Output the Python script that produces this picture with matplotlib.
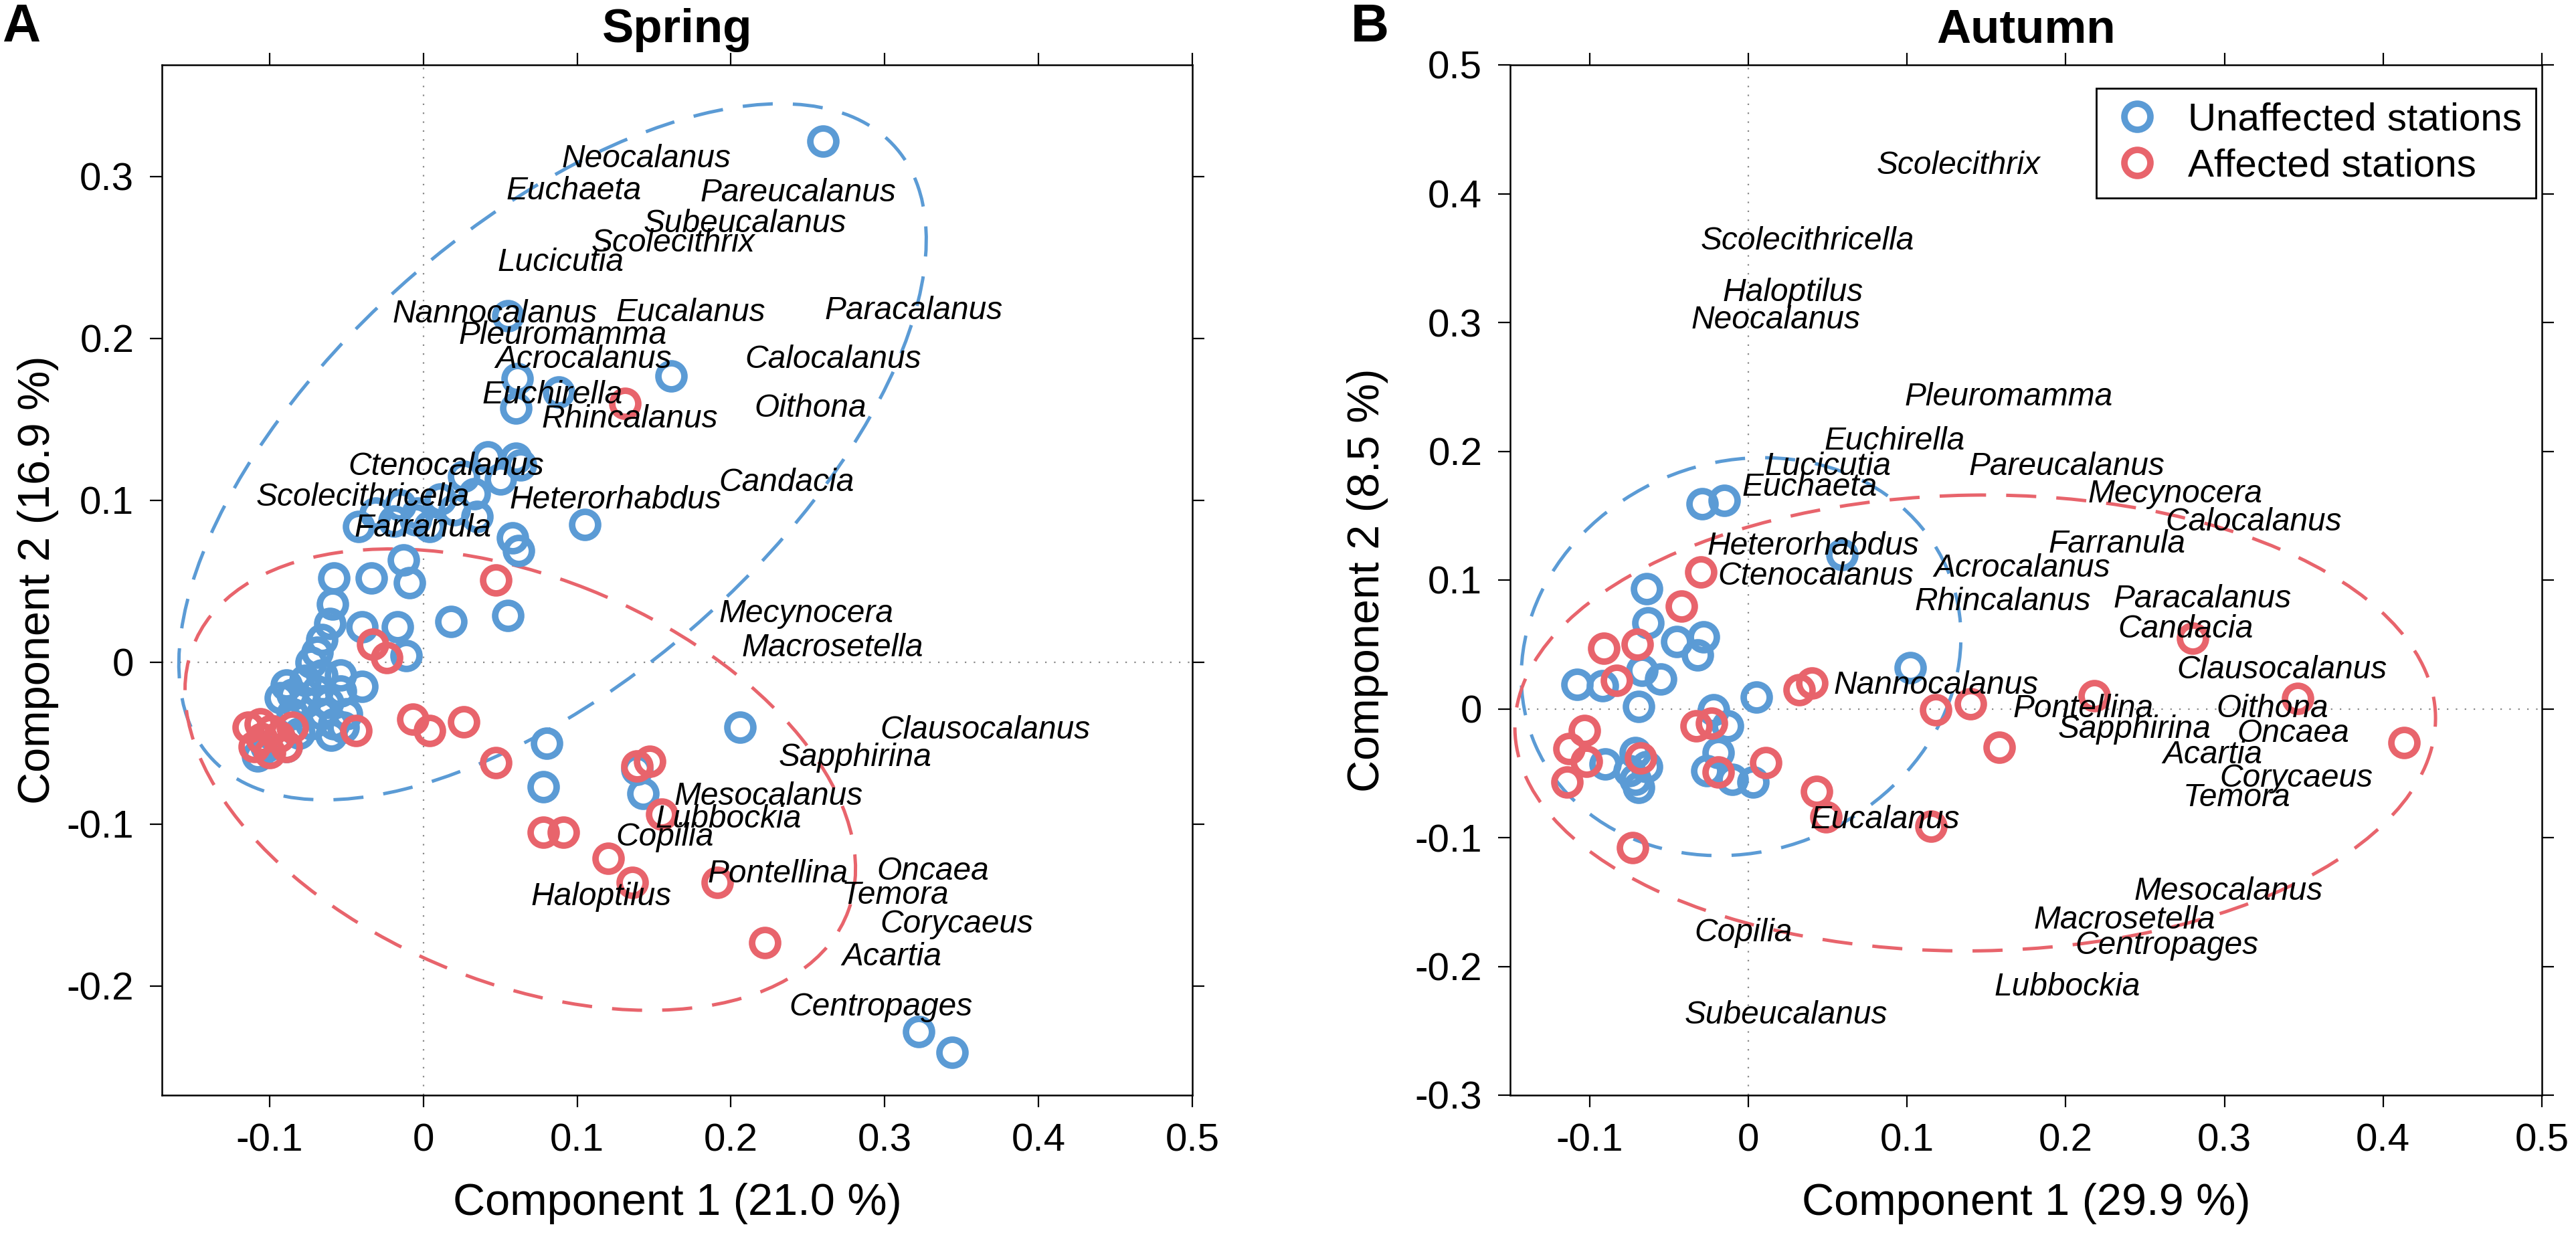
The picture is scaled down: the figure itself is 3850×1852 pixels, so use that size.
import numpy as np
import matplotlib
matplotlib.use('Agg')
import matplotlib.pyplot as plt
from matplotlib.patches import Ellipse
from matplotlib.lines import Line2D
from matplotlib.ticker import FuncFormatter

plt.rcParams['font.family'] = ['Liberation Sans', 'DejaVu Sans']
plt.rcParams['axes.unicode_minus'] = False

BLUE = '#5b9bd5'
RED = '#e8646c'

# ---------------- Spring (panel A) ----------------
spring_unaff_x = [0.260, 0.055, 0.161, 0.061, 0.088, 0.060,
                  0.042, 0.060, 0.063, 0.026, 0.033, 0.050, 0.011, -0.004,
                  -0.042, -0.031, -0.019, -0.005, 0.004, -0.015, 0.020, 0.035,
                  0.058, 0.062, 0.105, -0.013, -0.058, -0.034, -0.009, -0.059,
                  -0.061, -0.040, -0.017, -0.066, -0.069, -0.011, 0.018, 0.055,
                  -0.040, -0.073,
                  -0.089, -0.085, -0.077, -0.069, -0.062, -0.054, -0.066, -0.058,
                  -0.073, -0.085, -0.081, -0.060, -0.054, -0.066, -0.050, -0.077,
                  -0.093, -0.108, -0.102, -0.089, -0.052,
                  0.080, 0.078, 0.139, 0.143, 0.206, 0.322, 0.344]
spring_unaff_y = [0.322, 0.214, 0.177, 0.175, 0.167, 0.157,
                  0.127, 0.126, 0.122, 0.115, 0.104, 0.113, 0.101, 0.092,
                  0.084, 0.092, 0.087, 0.088, 0.084, 0.097, 0.094, 0.090,
                  0.077, 0.069, 0.085, 0.063, 0.052, 0.052, 0.049, 0.036,
                  0.024, 0.022, 0.022, 0.014, 0.006, 0.004, 0.025, 0.029,
                  -0.015, 0.000,
                  -0.014, -0.020, -0.011, -0.018, -0.025, -0.018, -0.032, -0.038,
                  -0.038, -0.032, -0.044, -0.045, -0.008, -0.008, -0.032, -0.025,
                  -0.022, -0.058, -0.052, -0.052, -0.040,
                  -0.050, -0.077, -0.066, -0.081, -0.040, -0.228, -0.241]

spring_aff_x = [0.131, 0.047, -0.033, -0.024, -0.007, 0.004, 0.026, -0.044, 0.047,
                -0.114, -0.106, -0.099, -0.110, -0.100, -0.089, -0.085, -0.105, -0.094,
                0.139, 0.147, 0.155, 0.120, 0.136, 0.191, 0.222, 0.078, 0.091]
spring_aff_y = [0.160, 0.051, 0.011, 0.003, -0.035, -0.042, -0.037, -0.042, -0.062,
                -0.040, -0.038, -0.042, -0.052, -0.056, -0.052, -0.040, -0.047, -0.046,
                -0.064, -0.061, -0.094, -0.121, -0.136, -0.136, -0.173, -0.105, -0.105]

spring_names = ['Neocalanus', 'Euchaeta', 'Pareucalanus', 'Subeucalanus', 'Scolecithrix',
                'Lucicutia', 'Nannocalanus', 'Eucalanus', 'Paracalanus', 'Pleuromamma',
                'Acrocalanus', 'Calocalanus', 'Euchirella', 'Rhincalanus', 'Oithona',
                'Ctenocalanus', 'Candacia', 'Scolecithricella', 'Heterorhabdus', 'Farranula',
                'Mecynocera', 'Macrosetella', 'Clausocalanus', 'Sapphirina', 'Mesocalanus',
                'Lubbockia', 'Copilia', 'Pontellina', 'Oncaea', 'Temora', 'Haloptilus',
                'Corycaeus', 'Acartia', 'Centropages']
spring_name_x = [0.090, 0.054, 0.180, 0.143, 0.109, 0.048, -0.020, 0.125, 0.261, 0.023,
                 0.047, 0.209, 0.038, 0.077, 0.215, -0.049, 0.192, -0.109, 0.056, -0.045,
                 0.192, 0.207, 0.297, 0.231, 0.163, 0.151, 0.125, 0.185, 0.295, 0.272,
                 0.070, 0.297, 0.272, 0.238]
spring_name_y = [0.311, 0.291, 0.290, 0.271, 0.259, 0.247, 0.215, 0.216, 0.217, 0.202,
                 0.187, 0.187, 0.165, 0.150, 0.157, 0.121, 0.111, 0.102, 0.100, 0.083,
                 0.030, 0.009, -0.042, -0.059, -0.083, -0.097, -0.108, -0.131, -0.129, -0.144,
                 -0.145, -0.162, -0.182, -0.213]

# ellipses: centre x, centre y, sd x, sd y, correlation
spring_ell_unaff = [0.084, 0.130, 0.243, 0.215, 0.61]
spring_ell_aff = [0.063, -0.0725, 0.218, 0.1425, -0.386]

# ---------------- Autumn (panel B) ----------------
autumn_unaff_x = [-0.029, -0.015, 0.059, -0.064, -0.063, -0.045, -0.028, -0.032, -0.067,
                  -0.055, -0.108, -0.092, -0.069, -0.022, 0.005, -0.013, -0.019, -0.090,
                  -0.071, -0.064, -0.071, -0.069, -0.026, -0.010, 0.003, 0.102, -0.075]
autumn_unaff_y = [0.159, 0.162, 0.120, 0.093, 0.067, 0.052, 0.056, 0.042, 0.030,
                  0.023, 0.019, 0.018, 0.002, -0.001, 0.009, -0.013, -0.034, -0.043,
                  -0.034, -0.045, -0.055, -0.061, -0.048, -0.055, -0.057, 0.032, -0.048]

autumn_aff_x = [-0.030, -0.042, -0.091, -0.070, -0.083, -0.103, -0.113, -0.102, -0.114,
                -0.068, -0.033, -0.023, -0.019, 0.011, 0.032, 0.040, 0.043, 0.049,
                0.115, 0.118, 0.140, 0.158, -0.073, 0.218, 0.280, 0.346, 0.413]
autumn_aff_y = [0.106, 0.080, 0.047, 0.050, 0.022, -0.017, -0.031, -0.041, -0.057,
                -0.038, -0.013, -0.011, -0.049, -0.042, 0.015, 0.020, -0.064, -0.084,
                -0.091, -0.001, 0.004, -0.030, -0.108, 0.010, 0.055, 0.008, -0.026]

autumn_names = ['Scolecithrix', 'Scolecithricella', 'Haloptilus', 'Neocalanus', 'Pleuromamma',
                'Euchirella', 'Lucicutia', 'Pareucalanus', 'Euchaeta', 'Mecynocera',
                'Calocalanus', 'Farranula', 'Heterorhabdus', 'Acrocalanus', 'Ctenocalanus',
                'Rhincalanus', 'Paracalanus', 'Candacia', 'Clausocalanus', 'Nannocalanus',
                'Pontellina', 'Oithona', 'Sapphirina', 'Oncaea', 'Acartia', 'Corycaeus',
                'Temora', 'Eucalanus', 'Mesocalanus', 'Macrosetella', 'Centropages',
                'Copilia', 'Lubbockia', 'Subeucalanus']
autumn_name_x = [0.081, -0.030, -0.016, -0.036, 0.0985, 0.048, 0.0105, 0.139, -0.004, 0.214,
                 0.263, 0.189, -0.026, 0.117, -0.019, 0.105, 0.230, 0.233, 0.270, 0.054,
                 0.167, 0.295, 0.195, 0.308, 0.261, 0.297, 0.274, 0.039, 0.243, 0.180,
                 0.206, -0.034, 0.155, -0.040]
autumn_name_y = [0.422, 0.363, 0.323, 0.302, 0.242, 0.208, 0.188, 0.188, 0.172, 0.167,
                 0.145, 0.128, 0.126, 0.109, 0.103, 0.083, 0.085, 0.062, 0.030, 0.018,
                 0.000, 0.000, -0.016, -0.019, -0.036, -0.054, -0.069, -0.086, -0.142, -0.164,
                 -0.184, -0.174, -0.216, -0.238]

autumn_ell_unaff = [-0.0045, 0.0405, 0.1385, 0.1545, 0.10]
autumn_ell_aff = [0.143, -0.011, 0.290, 0.177, 0.02]


def draw_ellipse(ax, params, color):
    cx, cy, sx, sy, r = params
    cov = np.array([[sx ** 2, r * sx * sy], [r * sx * sy, sy ** 2]])
    vals, vecs = np.linalg.eigh(cov)
    angle = np.degrees(np.arctan2(vecs[1, 1], vecs[0, 1]))
    e = Ellipse((cx, cy), 2 * np.sqrt(vals[1]), 2 * np.sqrt(vals[0]), angle=angle,
                fill=False, ec=color, lw=3.6, ls=(0, (9, 6)), zorder=2)
    ax.add_patch(e)


def style_axes(ax, xlim, ylim, xticks, yticks):
    ax.set_xlim(xlim)
    ax.set_ylim(ylim)
    ax.set_xticks(xticks)
    ax.set_yticks(yticks)
    fmt = FuncFormatter(lambda v, p: '%g' % round(v, 2) if abs(v) > 1e-9 else '0')
    ax.xaxis.set_major_formatter(fmt)
    ax.yaxis.set_major_formatter(fmt)
    ax.tick_params(direction='out', top=True, right=True, length=13, width=1.6,
                   labelsize=42, pad=17)
    for s in ax.spines.values():
        s.set_linewidth(1.8)
    ax.axhline(0, color='#888888', lw=1.6, ls=(0, (1, 5)), zorder=1)
    ax.axvline(0, color='#888888', lw=1.6, ls=(0, (1, 5)), zorder=1)


def draw_panel(ax, ux, uy, ax_, ay, names, nx, ny, ell_u, ell_a):
    draw_ellipse(ax, ell_u, BLUE)
    draw_ellipse(ax, ell_a, RED)
    ax.plot(ux, uy, 'o', ls='none', mfc='none', mec=BLUE, ms=28, mew=7, zorder=3)
    ax.plot(ax_, ay, 'o', ls='none', mfc='none', mec=RED, ms=28, mew=7, zorder=4)
    for name, x, y in zip(names, nx, ny):
        ax.text(x, y, name, fontsize=34.5, fontstyle='italic', ha='left', va='center',
                zorder=5)


fig = plt.figure(figsize=(38.5, 18.52), dpi=100)
axA = fig.add_axes([242 / 3850, 215 / 1852, 1540 / 3850, 1540 / 1852])
axB = fig.add_axes([2257 / 3850, 215 / 1852, 1542 / 3850, 1540 / 1852])

draw_panel(axA, spring_unaff_x, spring_unaff_y, spring_aff_x, spring_aff_y,
           spring_names, spring_name_x, spring_name_y, spring_ell_unaff, spring_ell_aff)
style_axes(axA, (-0.170, 0.5), (-0.2674, 0.369),
           [-0.1, 0, 0.1, 0.2, 0.3, 0.4, 0.5], [-0.2, -0.1, 0, 0.1, 0.2, 0.3])

draw_panel(axB, autumn_unaff_x, autumn_unaff_y, autumn_aff_x, autumn_aff_y,
           autumn_names, autumn_name_x, autumn_name_y, autumn_ell_unaff, autumn_ell_aff)
style_axes(axB, (-0.15, 0.5), (-0.3, 0.5),
           [-0.1, 0, 0.1, 0.2, 0.3, 0.4, 0.5],
           [-0.3, -0.2, -0.1, 0, 0.1, 0.2, 0.3, 0.4, 0.5])

axA.set_xlabel('Component 1 (21.0 %)', fontsize=48)
axA.set_ylabel('Component 2 (16.9 %)', fontsize=48)
axB.set_xlabel('Component 1 (29.9 %)', fontsize=48)
axB.set_ylabel('Component 2 (8.5 %)', fontsize=48)
axA.xaxis.set_label_coords(0.5, -0.085)
axB.xaxis.set_label_coords(0.5, -0.085)
axA.yaxis.set_label_coords(-0.100, 0.5)
axB.yaxis.set_label_coords(-0.118, 0.5)

axA.text(0.5, 1 + 34 / 1540, 'Spring', transform=axA.transAxes, ha='center', va='baseline',
         fontsize=51, fontweight='bold')
axB.text(0.5, 1 + 34 / 1540, 'Autumn', transform=axB.transAxes, ha='center', va='baseline',
         fontsize=51, fontweight='bold')
fig.text(32 / 3850, 1 - 62 / 1852, 'A', fontsize=57, fontweight='bold', ha='center',
         va='baseline')
fig.text(2047 / 3850, 1 - 62 / 1852, 'B', fontsize=57, fontweight='bold', ha='center',
         va='baseline')

handles = [Line2D([], [], marker='o', ls='none', mfc='none', mec=BLUE, ms=28, mew=7,
                  label='Unaffected stations'),
           Line2D([], [], marker='o', ls='none', mfc='none', mec=RED, ms=28, mew=7,
                  label='Affected stations')]
leg = axB.legend(handles=handles, loc='upper right', bbox_to_anchor=(0.994, 0.977),
                 borderaxespad=0, fontsize=42, fancybox=False, framealpha=1,
                 edgecolor='black', handlelength=1.4, handletextpad=0.6,
                 labelspacing=0.25, borderpad=0.35)
leg.get_frame().set_linewidth(2)

fig.savefig('out.png', dpi=100)
